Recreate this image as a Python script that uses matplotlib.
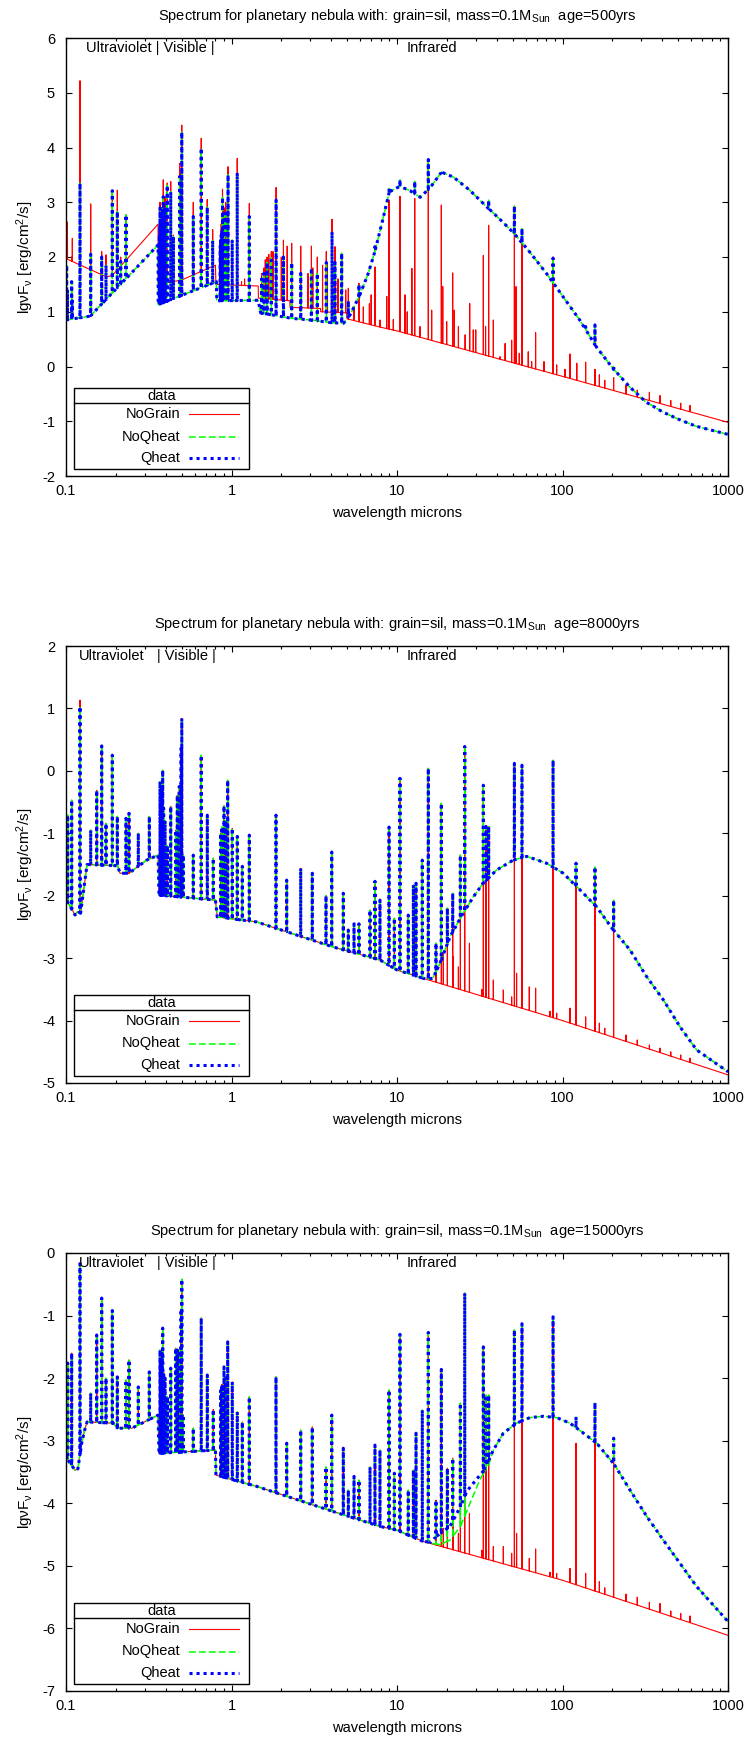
import numpy as np
import matplotlib.pyplot as plt
from matplotlib.patches import Rectangle
from matplotlib.ticker import FixedLocator, LogLocator, NullFormatter

plt.rcParams['font.family'] = ['Liberation Sans', 'DejaVu Sans']
plt.rcParams['mathtext.default'] = 'regular'
plt.rcParams['axes.unicode_minus'] = False
plt.rcParams['font.size'] = 10.5

# ---------------------------------------------------------------------------
# age = 500 yrs
# continuum knots (wavelength in microns, lg nuF_nu)
p1_nograin_w = [0.100, 0.175, 0.190, 0.360, 0.3605, 0.500, 0.800, 0.805, 1.450, 1.455,
                2.250, 2.260, 3.450, 3.460, 4.950, 5.000, 7.900, 10.00, 100.0, 1000]
p1_nograin_f = [1.97, 1.64, 1.66, 2.60, 1.50, 1.58, 1.85, 1.50, 1.47, 1.25,
                1.20, 1.08, 1.06, 1.00, 0.98, 0.87, 0.72, 0.65, -0.18, -1.02]

p1_dust_w = [0.1, 0.14, 0.36, 0.3605, 0.81, 0.815, 1.45, 1.5, 2.3, 3.0,
             4.0, 4.75, 5.2, 5.9, 6.7, 7.3, 8.2, 9.0, 10.4, 12.0,
             13.8, 15.8, 18.6, 21.9, 27.5, 34.5, 43.5, 51, 63.4, 80,
             101, 127, 160, 201, 254, 320, 403, 508, 640, 1000]
p1_dust_f = [0.85, 0.92, 2.22, 1.13, 1.55, 1.20, 1.21, 0.98, 0.88, 0.85,
             0.80, 0.79, 0.94, 1.27, 1.70, 2.07, 2.68, 3.19, 3.29, 3.21,
             3.09, 3.26, 3.55, 3.46, 3.22, 2.93, 2.64, 2.43, 2.09, 1.70,
             1.27, 0.85, 0.36, -0.03, -0.37, -0.65, -0.83, -0.97, -1.09, -1.24]

# emission lines: peak without grains / peak with grains
p1_line_w = [0.1009, 0.1020, 0.1082, 0.1092, 0.1215, 0.1410, 0.1643, 0.1745, 0.1905, 0.2042, 0.2140, 0.2304,
             0.3665, 0.3698, 0.3712, 0.3734, 0.3750, 0.3771, 0.3797, 0.3835, 0.3870, 0.3889, 0.3970, 0.4090, 0.4293, 0.4458,
             0.4861, 0.4959, 0.5007, 0.5876, 0.6563, 0.7136, 0.7695,
             0.8545, 0.8598, 0.8665, 0.8750, 0.8825, 0.9015, 0.9229, 0.9532, 1.0100, 1.0830, 1.2813,
             1.52, 1.57, 1.64, 1.74, 1.86, 2.06, 2.31, 2.62, 3.04, 3.30, 3.74, 4.05, 4.22, 4.63,
             5.08, 5.89, 7.36, 8.95, 10.42, 12.8, 15.46, 18.53, 35.8, 51.2, 56.9, 87.7, 138.0, 157.1, 203.7]
p1_line_red = [2.10, 2.64, 2.00, 2.34, 5.22, 2.97, 2.10, 2.04, 3.22, 3.22, 2.00, 2.77,
               2.50, 3.00, 2.70, 2.80, 2.80, 2.90, 2.90, 3.00, 3.41, 3.10, 3.10, 3.35, 3.38, 2.40,
               3.71, 3.55, 4.41, 3.00, 4.17, 3.05, 2.50,
               2.30, 2.40, 2.60, 2.70, 3.24, 2.90, 3.00, 3.65, 2.31, 3.80, 2.98,
               1.70, 1.80, 2.00, 2.10, 3.27, 2.31, 2.25, 2.20, 2.20, 2.00, 2.10, 2.69, 2.19, 2.05,
               1.43, 1.52, 1.82, 3.04, 3.11, 3.07, 3.78, 2.95, 2.58, 2.93, 2.43, 2.00, 0.08, -0.05, -0.20]
p1_line_dust = [1.85, 1.40, 1.55, 1.20, 3.35, 2.05, 2.00, 1.85, 3.21, 2.83, 1.92, 2.77,
                2.40, 2.90, 2.60, 2.75, 2.60, 2.85, 2.70, 2.90, 3.10, 3.00, 2.90, 3.31, 3.19, 2.37,
                3.47, 3.40, 4.28, 2.74, 3.99, 2.91, 2.30,
                2.20, 2.30, 2.40, 2.50, 3.09, 2.80, 2.80, 3.50, 2.31, 3.54, 2.74,
                1.60, 1.70, 1.90, 2.00, 3.04, 2.00, 1.90, 1.70, 1.80, 1.70, 1.90, 2.46, 1.90, 2.07,
                1.20, 1.50, 2.19, 3.25, 3.41, 3.38, 3.78, 3.57, 3.04, 2.93, 2.52, 1.98, 0.73, 0.76, 0.02]

# weaker lines that only stand out in the grain-free run
p1_red_only_w = [1.15, 1.20, 1.60, 1.68, 1.78, 2.00, 2.17, 2.90, 3.10, 3.55,
                 3.80, 4.40, 4.90, 5.50, 6.26, 6.81, 6.98, 7.89, 8.67, 9.50,
                 11.17, 11.53, 12.30, 13.77, 16.20, 18.90, 19.96, 21.70, 22.20, 23.50,
                 25.80, 27.50, 28.90, 29.90, 33.24, 34.30, 38.20, 41.90, 45.00, 49.30,
                 52.40, 54.80, 62.10, 65.10, 68.80, 77.30, 92.20, 103.5, 111.0, 122.0,
                 167.0, 180.0, 242.0, 283.0, 335.0, 388.0, 451.0, 518.0, 589.0]
p1_red_only_f = [1.55, 1.60, 1.95, 2.05, 2.10, 2.00, 2.20, 1.70, 1.80, 1.85,
                 1.90, 1.60, 1.40, 1.10, 1.09, 1.15, 1.31, 0.85, 1.28, 0.86,
                 1.31, 1.00, 1.79, 0.73, 1.03, 1.46, 0.82, 1.71, 1.03, 0.73,
                 0.58, 1.15, 0.67, 0.67, 2.03, 0.73, 0.85, 0.18, 0.42, 0.48,
                 1.46, 0.24, 0.27, 0.09, 0.62, 0.09, 0.03, -0.05, 0.23, 0.06,
                 -0.15, -0.25, -0.34, -0.43, -0.47, -0.53, -0.62, -0.67, -0.71]

# ---------------------------------------------------------------------------
# lines shared by the two older models
late_line_w = [0.1024, 0.1082, 0.1215, 0.1410, 0.1533, 0.1643, 0.1745, 0.1905, 0.2042, 0.2304,
               0.2403, 0.2735, 0.3187, 0.3698, 0.3734, 0.3771, 0.3798, 0.3839, 0.3889, 0.3970,
               0.4102, 0.4293, 0.4601, 0.4705, 0.4837, 0.4959, 0.5007, 0.5113, 0.5876, 0.6563,
               0.7142, 0.7762, 0.8598, 0.8750, 0.9011, 0.9229, 0.9484, 1.0110, 1.0840, 1.1625,
               1.2813, 1.8570, 2.1550, 2.6190, 3.0770, 3.7240, 4.0320, 4.7380, 5.0800, 5.5000,
               5.8900, 6.8700, 7.3600, 7.8900, 8.9500, 9.6400, 10.420, 11.700, 12.560, 13.030,
               14.220, 15.460, 17.200, 18.530, 20.150, 21.710, 24.150, 25.660, 33.240, 34.500,
               35.800, 51.200, 56.900, 87.700, 120.70, 157.10, 203.70]
late_red_only_w = [19.05, 21.90, 23.50, 27.40, 32.50, 38.20, 43.90, 49.30, 52.80, 63.00,
                   68.80, 84.00, 92.20, 111.0, 138.0, 167.0, 180.0, 242.0, 283.0, 335.0,
                   388.0, 451.0, 518.0, 589.0]

# age = 8000 yrs
p2_nograin_w = [0.100, 0.105, 0.1134, 0.118, 0.1225, 0.134, 0.205, 0.212, 0.240, 0.307,
                0.360, 0.3645, 0.800, 0.820, 1.420, 4.100, 7.900, 10.00, 15.10, 100.0, 1000]
p2_nograin_f = [-2.07, -2.15, -2.31, -2.25, -2.28, -1.50, -1.52, -1.64, -1.64, -1.43,
                -1.35, -1.99, -2.07, -2.34, -2.42, -2.82, -3.03, -3.19, -3.34, -4.00, -4.87]
p2_dust_w = p2_nograin_w[:-2] + [16.5, 18.2, 20.9, 25.1, 28.9, 33.2, 39.9, 50.4, 60.8, 80.2,
                                 101, 128, 161, 203, 256, 323, 407, 513, 646, 1000]
p2_dust_f = p2_nograin_f[:-2] + [-3.32, -3.08, -2.66, -2.28, -2.02, -1.80, -1.59, -1.43, -1.37, -1.48,
                                 -1.64, -1.91, -2.18, -2.55, -2.87, -3.30, -3.67, -4.10, -4.47, -4.82]
p2_line_dust = [-0.71, -0.47, 1.03, -0.95, -0.31, 0.40, -0.84, 0.25, -0.73, -0.76,
                -0.68, -1.00, -0.73, -0.17, -0.35, -0.50, -0.25, 0.01, -0.60, -0.80,
                -1.20, -0.57, -0.95, -0.39, -0.25, 0.36, 0.84, -1.35, -1.35, 0.25,
                -0.71, -1.40, -1.00, -0.90, -0.56, -0.80, -0.15, -0.92, -1.05, -1.53,
                -1.03, -0.71, -1.75, -1.56, -1.64, -2.00, -1.30, -1.96, -2.55, -2.45,
                -2.45, -2.23, -1.77, -2.07, -0.90, -2.36, -0.12, -2.31, -1.83, -1.80,
                -1.43, 0.04, -2.76, -0.52, -2.20, -1.96, -1.35, 0.39, -0.23, -0.89,
                -0.89, 0.12, 0.09, 0.17, -1.48, -1.54, -2.07]
p2_line_red = [-0.71, -0.47, 1.135, -0.95, -0.31, 0.40, -0.84, 0.25, -0.73, -0.76,
               -0.68, -1.00, -0.73, -0.17, -0.35, -0.50, -0.25, 0.01, -0.60, -0.80,
               -1.20, -0.57, -0.95, -0.39, -0.25, 0.36, 0.84, -1.35, -1.35, 0.25,
               -0.71, -1.40, -1.00, -0.90, -0.56, -0.80, -0.15, -0.92, -1.05, -1.53,
               -1.03, -0.71, -1.75, -1.56, -1.64, -2.00, -1.30, -1.96, -2.55, -2.45,
               -2.45, -2.23, -1.77, -2.07, -0.90, -2.36, -0.12, -2.31, -1.83, -1.80,
               -1.43, 0.04, -2.76, -0.52, -2.20, -1.96, -1.35, 0.39, -0.23, -0.89,
               -0.89, 0.12, 0.09, 0.17, -1.69, -1.65, -2.24]
p2_red_only_f = [-2.92, -2.98, -3.14, -2.76, -3.50, -3.35, -3.51, -3.62, -3.24, -3.46,
                 -3.48, -3.85, -3.88, -3.80, -3.94, -4.04, -4.12, -4.23, -4.31, -4.39,
                 -4.44, -4.50, -4.55, -4.60]

# age = 15000 yrs
p3_nograin_w = [0.100, 0.105, 0.1134, 0.118, 0.1244, 0.129, 0.134, 0.193, 0.205, 0.250,
                0.360, 0.3645, 0.800, 0.805, 1.420, 4.100, 7.900, 10.00, 14.40, 100.0, 1000]
p3_nograin_f = [-3.25, -3.35, -3.47, -3.45, -3.04, -2.85, -2.70, -2.72, -2.80, -2.80,
                -2.59, -3.20, -3.15, -3.55, -3.73, -4.13, -4.37, -4.43, -4.61, -5.23, -6.11]
p3_qheat_w = p3_nograin_w[:-2] + [16.0, 17.3, 20.9, 24.2, 26.4, 28.9, 33.2, 38.2, 43.9, 52.8,
                                  63.6, 76.6, 92.0, 111, 134, 161, 203, 256, 323, 407,
                                  513, 646, 1000]
p3_qheat_f = p3_nograin_f[:-2] + [-4.62, -4.53, -4.37, -4.05, -3.81, -3.68, -3.49, -3.15, -2.88, -2.72,
                                  -2.63, -2.61, -2.63, -2.72, -2.88, -3.04, -3.36, -3.79, -4.21, -4.59,
                                  -4.96, -5.33, -5.89]
p3_noqheat_w = p3_nograin_w[:-2] + [16.0, 18.3, 20.9, 24.2, 27.6, 31.6, 36.1, 38.2, 43.9, 52.8,
                                    63.6, 76.6, 92.0, 111, 134, 161, 203, 256, 323, 407,
                                    513, 646, 1000]
p3_noqheat_f = p3_nograin_f[:-2] + [-4.64, -4.66, -4.59, -4.37, -4.00, -3.63, -3.36, -3.15, -2.88, -2.72,
                                    -2.63, -2.61, -2.63, -2.72, -2.88, -3.04, -3.36, -3.79, -4.21, -4.59,
                                    -4.96, -5.33, -5.89]
p3_line_dust = [-1.76, -1.60, -0.17, -2.24, -1.31, -0.72, -2.00, -0.92, -1.98, -2.03,
                -1.71, -2.14, -1.90, -1.55, -1.70, -1.80, -1.60, -1.20, -1.90, -2.00,
                -2.30, -1.84, -1.52, -1.55, -1.55, -0.90, -0.42, -2.59, -2.80, -1.04,
                -1.95, -2.50, -2.20, -2.10, -1.82, -2.00, -1.42, -2.06, -2.54, -2.70,
                -2.30, -1.98, -3.04, -2.83, -2.78, -3.42, -2.59, -3.12, -3.79, -3.57,
                -3.63, -3.42, -3.07, -3.15, -2.19, -3.52, -1.30, -3.79, -3.47, -2.88,
                -2.51, -1.27, -3.95, -1.86, -3.44, -3.28, -2.40, -0.64, -1.50, -2.27,
                -2.27, -1.23, -1.13, -1.02, -2.62, -2.39, -2.96]
p3_line_red = [-1.76, -1.60, -0.17, -2.24, -1.31, -0.72, -2.00, -0.92, -1.98, -2.03,
               -1.71, -2.14, -1.90, -1.55, -1.70, -1.80, -1.60, -1.20, -1.90, -2.00,
               -2.30, -1.84, -1.52, -1.55, -1.55, -0.90, -0.42, -2.59, -2.80, -1.04,
               -1.95, -2.50, -2.20, -2.10, -1.82, -2.00, -1.42, -2.06, -2.54, -2.70,
               -2.30, -1.98, -3.04, -2.83, -2.78, -3.42, -2.59, -3.12, -3.79, -3.57,
               -3.63, -3.42, -3.07, -3.15, -2.19, -3.52, -1.30, -3.79, -3.47, -2.88,
               -2.51, -1.27, -3.95, -1.86, -3.44, -3.28, -2.40, -0.64, -1.50, -2.27,
               -2.27, -1.23, -1.13, -1.02, -3.04, -2.52, -3.18]
p3_red_only_f = [-4.40, -4.35, -4.48, -4.16, -4.75, -4.69, -4.69, -4.80, -4.48, -4.88,
                 -4.73, -5.10, -5.12, -5.04, -5.12, -5.25, -5.35, -5.45, -5.50, -5.58,
                 -5.60, -5.72, -5.76, -5.80]

ages = ['500', '8000', '15000']
series_names = ['NoGrain', 'NoQheat', 'Qheat']


def spectrum(cont_w, cont_f, line_w, line_f):
    """continuum with the emission lines drawn as narrow spikes on it"""
    cw = np.asarray(cont_w, float)
    cf = np.asarray(cont_f, float)
    lw = np.asarray(line_w, float)
    lf = np.asarray(line_f, float)
    base = np.interp(np.log10(lw), np.log10(cw), cf)
    up = lf > base
    lw, lf, base = lw[up], lf[up], base[up]
    w = np.concatenate([cw, lw / 1.0015, lw, lw * 1.0015])
    f = np.concatenate([cf, base, lf, base])
    order = np.argsort(w, kind='stable')
    return w[order], f[order]


panels = [
    dict(ylim=(-2, 6),
         red=spectrum(p1_nograin_w, p1_nograin_f, p1_line_w + p1_red_only_w, p1_line_red + p1_red_only_f),
         green=spectrum(p1_dust_w, p1_dust_f, p1_line_w, p1_line_dust),
         blue=spectrum(p1_dust_w, p1_dust_f, p1_line_w, p1_line_dust)),
    dict(ylim=(-5, 2),
         red=spectrum(p2_nograin_w, p2_nograin_f, late_line_w + late_red_only_w, p2_line_red + p2_red_only_f),
         green=spectrum(p2_dust_w, p2_dust_f, late_line_w, p2_line_dust),
         blue=spectrum(p2_dust_w, p2_dust_f, late_line_w, p2_line_dust)),
    dict(ylim=(-7, 0),
         red=spectrum(p3_nograin_w, p3_nograin_f, late_line_w + late_red_only_w, p3_line_red + p3_red_only_f),
         green=spectrum(p3_noqheat_w, p3_noqheat_f, late_line_w, p3_line_dust),
         blue=spectrum(p3_qheat_w, p3_qheat_f, late_line_w, p3_line_dust)),
]

styles = [dict(color='#ff0000', lw=0.8),
          dict(color='#00ff00', lw=1.1, dashes=(4.5, 2)),
          dict(color='#0000ff', lw=2.2, dashes=(1, 1.3))]

W, H = 749, 1737
fig = plt.figure(figsize=(W / 100, H / 100), dpi=100)

# axes frames in pixels: (top, bottom)
frames = [(38, 476), (646, 1083), (1253, 1691)]
left, right = 66, 728

for i, (pan, (top, bot)) in enumerate(zip(panels, frames)):
    ax = fig.add_axes([left / W, 1 - bot / H, (right - left) / W, (bot - top) / H])
    hpx = bot - top

    for key, st in zip(['red', 'green', 'blue'], styles):
        ax.plot(*pan[key], **st)

    ax.set_xscale('log')
    ax.set_xlim(0.1, 1000)
    ax.set_ylim(*pan['ylim'])
    ax.xaxis.set_major_locator(FixedLocator([0.1, 1, 10, 100, 1000]))
    ax.set_xticklabels(['0.1', '1', '10', '100', '1000'])
    ax.xaxis.set_minor_locator(LogLocator(base=10, subs=np.arange(2, 10)))
    ax.xaxis.set_minor_formatter(NullFormatter())
    ax.set_yticks(np.arange(pan['ylim'][0], pan['ylim'][1] + 1))
    ax.tick_params(which='both', direction='in', top=True, right=True, width=0.8)
    ax.tick_params(which='major', length=4.5, labelsize=10.5)
    ax.tick_params(which='minor', length=2.5)
    ax.tick_params(axis='y', pad=8)
    ax.tick_params(axis='x', pad=6)
    for sp in ax.spines.values():
        sp.set_linewidth(1.0)

    ax.text(0.5, 1 + 22 / hpx,
            'Spectrum for planetary nebula with: grain=sil, mass=0.1M$_{Sun}$  age=%syrs' % ages[i],
            transform=ax.transAxes, ha='center', va='center')
    ax.text(0.5, -37 / hpx, 'wavelength microns', transform=ax.transAxes,
            ha='center', va='center')
    ax.text(-41 / (right - left), 0.5, 'lgνF$_ν$ [erg/cm$^2$/s]', transform=ax.transAxes,
            rotation=90, ha='center', va='center', fontsize=11)

    # band labels along the top
    tr = ax.get_xaxis_transform()
    yb = 1 - 10 / hpx
    if i == 0:
        ax.text(0.132, yb, 'Ultraviolet | Visible |', transform=tr, ha='left', va='center')
    else:
        ax.text(0.120, yb, 'Ultraviolet', transform=tr, ha='left', va='center')
        ax.text(0.355, yb, '| Visible |', transform=tr, ha='left', va='center')
    ax.text(11.5, yb, 'Infrared', transform=tr, ha='left', va='center')

    # key box in the lower left corner, placed in pixels above the bottom axis
    def fy(px_above):
        return px_above / hpx

    def fx(px):
        return (px - left) / (right - left)

    ax.add_patch(Rectangle((fx(74), fy(7)), fx(249) - fx(74), fy(88) - fy(7),
                           transform=ax.transAxes, facecolor='white', edgecolor='black',
                           lw=1.0, zorder=5))
    ax.plot([fx(74), fx(249)], [fy(73), fy(73)], transform=ax.transAxes,
            color='black', lw=1.0, zorder=6)
    ax.text(fx(161.5), fy(80), 'data', transform=ax.transAxes,
            ha='center', va='center', zorder=6)
    for name, st, ypx in zip(series_names, styles, [62, 39.5, 18]):
        ax.text(fx(180), fy(ypx), name, transform=ax.transAxes,
                ha='right', va='center', zorder=6)
        ax.plot([fx(189), fx(239)], [fy(ypx), fy(ypx)], transform=ax.transAxes,
                zorder=6, **st)

fig.savefig('out.png', dpi=100)
